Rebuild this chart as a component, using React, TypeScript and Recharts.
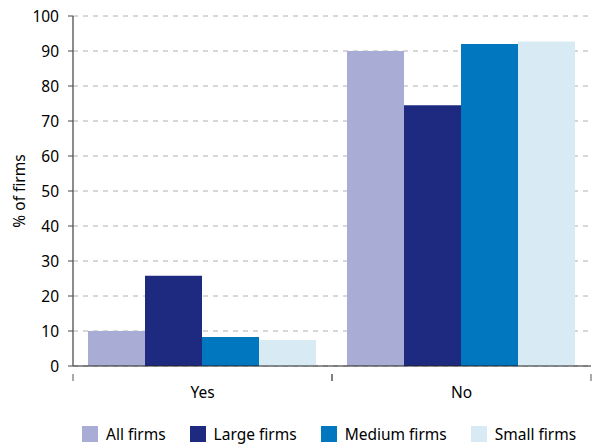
import React from 'react';
import {
  BarChart,
  Bar,
  XAxis,
  YAxis,
  CartesianGrid,
  Legend,
} from 'recharts';

const categories = ['Yes', 'No'];
const allFirms = [10, 90];
const largeFirms = [25.8, 74.5];
const mediumFirms = [8.3, 92];
const smallFirms = [7.4, 92.7];
const yTicks = [0, 10, 20, 30, 40, 50, 60, 70, 80, 90, 100];

const series = [
  { key: 'all', name: 'All firms', color: '#a9add5' },
  { key: 'large', name: 'Large firms', color: '#1e2a80' },
  { key: 'medium', name: 'Medium firms', color: '#0077be' },
  { key: 'small', name: 'Small firms', color: '#d8ebf5' },
];

const data = categories.map((c, i) => ({
  name: c,
  all: allFirms[i],
  large: largeFirms[i],
  medium: mediumFirms[i],
  small: smallFirms[i],
}));

const FONT = '"Noto Sans", sans-serif';
const TEXT = '#000';

const CategoryTick = (props: any) => {
  const { x, y, payload } = props;
  const half = payload.offset || 0;
  return (
    <g>
      <line x1={x - half} y1={y} x2={x - half} y2={y + 7} stroke="#555" strokeWidth={1} />
      <line x1={x + half} y1={y} x2={x + half} y2={y + 7} stroke="#555" strokeWidth={1} />
      <text x={x} y={y + 24} textAnchor="middle" fill={TEXT} fontSize={15.5} fontFamily={FONT}>
        {payload.value}
      </text>
    </g>
  );
};

const LegendContent = () => (
  <div
    style={{
      display: 'flex',
      alignItems: 'center',
      height: 38,
      paddingTop: 17,
      paddingLeft: 82,
      boxSizing: 'border-box',
      fontFamily: FONT,
      fontSize: 15.5,
      color: TEXT,
      whiteSpace: 'nowrap',
      width: 595,
    }}
  >
    {series.map((s) => (
      <div key={s.key} style={{ display: 'flex', alignItems: 'center', marginRight: 24, flexShrink: 0 }}>
        <span style={{ width: 16, height: 16, background: s.color, display: 'inline-block', marginRight: 8, flexShrink: 0 }} />
        <span>{s.name}</span>
      </div>
    ))}
  </div>
);

export default function App() {
  return (
    <div style={{ position: 'absolute', left: 0, top: 0, width: 595, height: 444, background: '#fff' }}>
      <BarChart
        width={595}
        height={444}
        data={data}
        margin={{ top: 16, right: 4, left: 0, bottom: 0 }}
        barCategoryGap={15}
        barGap={0}
      >
        <CartesianGrid
          vertical={false}
          stroke="#b0b0b0"
          strokeDasharray="5 5"
          strokeWidth={1}
        />
        <XAxis
          dataKey="name"
          height={40}
          axisLine={{ stroke: '#222', strokeWidth: 1 }}
          tickLine={false}
          tick={<CategoryTick />}
          interval={0}
        />
        <YAxis
          width={73}
          domain={[0, 100]}
          ticks={yTicks}
          interval={0}
          axisLine={{ stroke: '#666', strokeWidth: 1.5 }}
          tickLine={{ stroke: '#444' }}
          tickSize={5}
          tickMargin={9}
          tick={{ fill: TEXT, fontSize: 15.5, fontFamily: FONT }}
          label={{
            value: '% of firms',
            angle: -90,
            position: 'insideLeft',
            offset: 19,
            style: { textAnchor: 'middle', fill: TEXT, fontSize: 15.5, fontFamily: FONT },
          }}
        />
        <Legend verticalAlign="bottom" content={<LegendContent />} wrapperStyle={{ left: 0, width: 595 }} />
        {series.map((s) => (
          <Bar key={s.key} dataKey={s.key} name={s.name} fill={s.color} isAnimationActive={false} />
        ))}
      </BarChart>
    </div>
  );
}
